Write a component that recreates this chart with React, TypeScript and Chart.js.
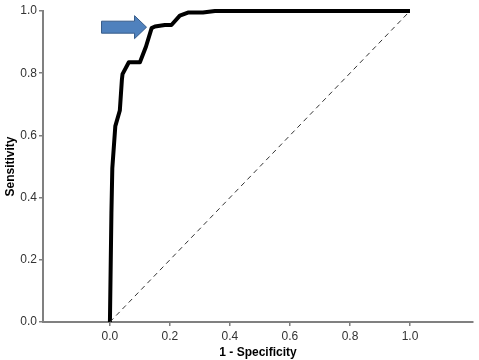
import React, { useEffect, useRef } from "react";
import { Chart, registerables } from "chart.js";

Chart.register(...registerables);

// ROC curve points (1 - Specificity, Sensitivity)
const FPR = [0.0, 0.005, 0.008, 0.018, 0.033, 0.04, 0.042, 0.063, 0.1, 0.12, 0.139, 0.15, 0.183, 0.205, 0.233, 0.26, 0.31, 0.35, 1.0];
const TPR = [0.0, 0.35, 0.495, 0.63, 0.68, 0.78, 0.797, 0.835, 0.835, 0.885, 0.945, 0.95, 0.955, 0.955, 0.985, 0.995, 0.995, 1.0, 1.0];
// Reference diagonal
const DIAG_X = [0, 1];
const DIAG_Y = [0, 1];
// Tick labels
const X_TICKS = [0.0, 0.2, 0.4, 0.6, 0.8, 1.0];
const Y_TICKS = [0.0, 0.2, 0.4, 0.6, 0.8, 1.0];
const X_TITLE = "1 - Specificity";
const Y_TITLE = "Sensitivity";
// Arrow annotation tip (data units)
const ARROW_TIP = { x: 0.122, y: 0.948 };

const FONT = "Arial, 'Liberation Sans', sans-serif";

const arrowPlugin = {
  id: "arrow",
  afterDatasetsDraw(chart: any) {
    const { ctx, scales } = chart;
    const tx = scales.x.getPixelForValue(ARROW_TIP.x);
    const ty = scales.y.getPixelForValue(ARROW_TIP.y);
    const len = 45, headLen = 12, bodyHalf = 6, headHalf = 11.5;
    ctx.save();
    ctx.beginPath();
    ctx.moveTo(tx, ty);
    ctx.lineTo(tx - headLen, ty - headHalf);
    ctx.lineTo(tx - headLen, ty - bodyHalf);
    ctx.lineTo(tx - len, ty - bodyHalf);
    ctx.lineTo(tx - len, ty + bodyHalf);
    ctx.lineTo(tx - headLen, ty + bodyHalf);
    ctx.lineTo(tx - headLen, ty + headHalf);
    ctx.closePath();
    ctx.fillStyle = "#4F81BD";
    ctx.fill();
    ctx.strokeStyle = "#385D8A";
    ctx.lineWidth = 1;
    ctx.stroke();
    ctx.restore();
  },
};

export default function App() {
  const ref = useRef<HTMLCanvasElement>(null);
  useEffect(() => {
    if (!ref.current) return;
    const chart = new Chart(ref.current, {
      type: "scatter",
      data: {
        datasets: [
          {
            data: DIAG_X.map((x, i) => ({ x, y: DIAG_Y[i] })),
            showLine: true,
            borderColor: "#333333",
            borderWidth: 1,
            borderDash: [5, 4],
            pointRadius: 0,
            clip: false as any,
          },
          {
            data: FPR.map((x, i) => ({ x, y: TPR[i] })),
            showLine: true,
            borderColor: "#000000",
            borderWidth: 4,
            borderJoinStyle: "round",
            borderCapStyle: "butt",
            pointRadius: 0,
            tension: 0,
            clip: false as any,
          },
        ],
      },
      options: {
        animation: false,
        responsive: true,
        maintainAspectRatio: false,
        layout: { padding: { left: 0, top: 11, right: 6, bottom: 0 } },
        plugins: { legend: { display: false }, tooltip: { enabled: false } },
        scales: {
          x: {
            type: "linear",
            min: -0.223,
            max: 1.21,
            afterBuildTicks: (s: any) => {
              s.ticks = X_TICKS.map((v) => ({ value: v }));
            },
            afterFit: (s: any) => {
              s.height = 38;
            },
            ticks: {
              callback: (v: any) => Number(v).toFixed(1),
              color: "#333333",
              font: { family: FONT, size: 12 },
              padding: 3,
              maxRotation: 0,
            },
            grid: { display: true, drawOnChartArea: false, drawTicks: true, tickLength: 4, color: "#808080", lineWidth: 1.5 },
            border: { display: true, color: "#808080", width: 2 },
            title: {
              display: true,
              text: X_TITLE,
              color: "#000000",
              font: { family: FONT, size: 12, weight: "bold" },
              padding: { top: 0, bottom: 0 },
            },
          },
          y: {
            type: "linear",
            min: 0,
            max: 1,
            afterBuildTicks: (s: any) => {
              s.ticks = Y_TICKS.map((v) => ({ value: v }));
            },
            afterFit: (s: any) => {
              s.width = 43;
            },
            ticks: {
              callback: (v: any) => Number(v).toFixed(1),
              color: "#333333",
              font: { family: FONT, size: 12 },
              padding: 2,
            },
            grid: { display: true, drawOnChartArea: false, drawTicks: true, tickLength: 4, color: "#808080", lineWidth: 1.5 },
            border: { display: true, color: "#808080", width: 2 },
            title: {
              display: true,
              text: Y_TITLE,
              color: "#000000",
              font: { family: FONT, size: 12, weight: "bold" },
              padding: { top: 3, bottom: 0 },
            },
          },
        },
      },
      plugins: [arrowPlugin],
    });
    return () => chart.destroy();
  }, []);
  return (
    <div style={{ position: "absolute", left: 0, top: 0, width: 479, height: 360, background: "#fff" }}>
      <canvas ref={ref} />
    </div>
  );
}
